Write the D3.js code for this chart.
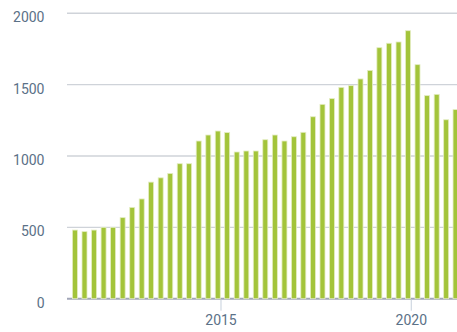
<!DOCTYPE html>
<html>
<head>
<meta charset="utf-8">
<script src="https://cdn.jsdelivr.net/npm/d3@7"></script>
<style>
  html, body { margin: 0; padding: 0; background: #ffffff; overflow: hidden; }
  svg { display: block; font-family: Roboto, "Noto Sans", sans-serif; }
</style>
</head>
<body>
<svg id="chart" width="457" height="332"></svg>
<script>
// Quarterly totals, first quarter of 2011 through first quarter of 2021
const startYear = 2011;
const values = [
  481, 470, 481, 500, 500, 568, 640, 699, 817, 847,
  878, 946, 946, 1105, 1147, 1175, 1164, 1028, 1035, 1035,
  1114, 1147, 1105, 1135, 1166, 1275, 1362, 1402, 1481, 1493,
  1540, 1600, 1759, 1790, 1799, 1878, 1640, 1423, 1432, 1254,
  1325
];
const yTicks = [0, 500, 1000, 1500, 2000];
const xTickYears = [2015, 2020];

// Each quarter's bar sits on the first day of the quarter's last month
const data = values.map((v, i) => ({
  date: new Date(startYear + Math.floor(i / 4), (i % 4) * 3 + 2, 1),
  value: v
}));

const svg = d3.select("#chart");
const W = 457, H = 332;
const plotLeft = 67, plotRight = W, plotTop = 13.3, plotBottom = 298.7;

const x = d3.scaleTime()
  .domain([new Date(2010, 11, 15), new Date(2021, 2, 15)])
  .range([plotLeft, plotRight]);

const y = d3.scaleLinear()
  .domain([0, 2000])
  .range([plotBottom, plotTop]);

// horizontal grid
svg.append("g")
  .selectAll("line")
  .data(yTicks.filter(t => t !== 0))
  .join("line")
  .attr("x1", plotLeft).attr("x2", plotRight)
  .attr("y1", d => y(d)).attr("y2", d => y(d))
  .attr("stroke", "#cfd3d9")
  .attr("stroke-width", 1.4);

// baseline
svg.append("line")
  .attr("x1", plotLeft).attr("x2", plotRight)
  .attr("y1", y(0)).attr("y2", y(0))
  .attr("stroke", "#a2a6b8")
  .attr("stroke-width", 2);

// bars
const barW = 5;
svg.append("g")
  .selectAll("rect")
  .data(data)
  .join("rect")
  .attr("x", d => x(d.date) - barW / 2)
  .attr("y", d => y(d.value))
  .attr("width", barW)
  .attr("height", d => y(0) - y(d.value))
  .attr("fill", "#a3c43a")
  .attr("stroke", "#e4edc2")
  .attr("stroke-width", 0.8);

// y labels
svg.append("g")
  .selectAll("text")
  .data(yTicks)
  .join("text")
  .attr("x", 44.5)
  .attr("y", d => y(d) + 9)
  .attr("text-anchor", "end")
  .attr("font-size", 14)
  .attr("fill", "#5b7187")
  .text(d => d);

// x ticks and labels
const xt = svg.append("g")
  .selectAll("g")
  .data(xTickYears)
  .join("g")
  .attr("transform", d => `translate(${x(new Date(d, 0, 1))},0)`);
xt.append("line")
  .attr("y1", y(0) + 1).attr("y2", y(0) + 12)
  .attr("stroke", "#c6d0dc")
  .attr("stroke-width", 1);
xt.append("text")
  .attr("y", 325)
  .attr("text-anchor", "middle")
  .attr("font-size", 14)
  .attr("fill", "#5b7187")
  .text(d => d);
</script>
</body>
</html>
